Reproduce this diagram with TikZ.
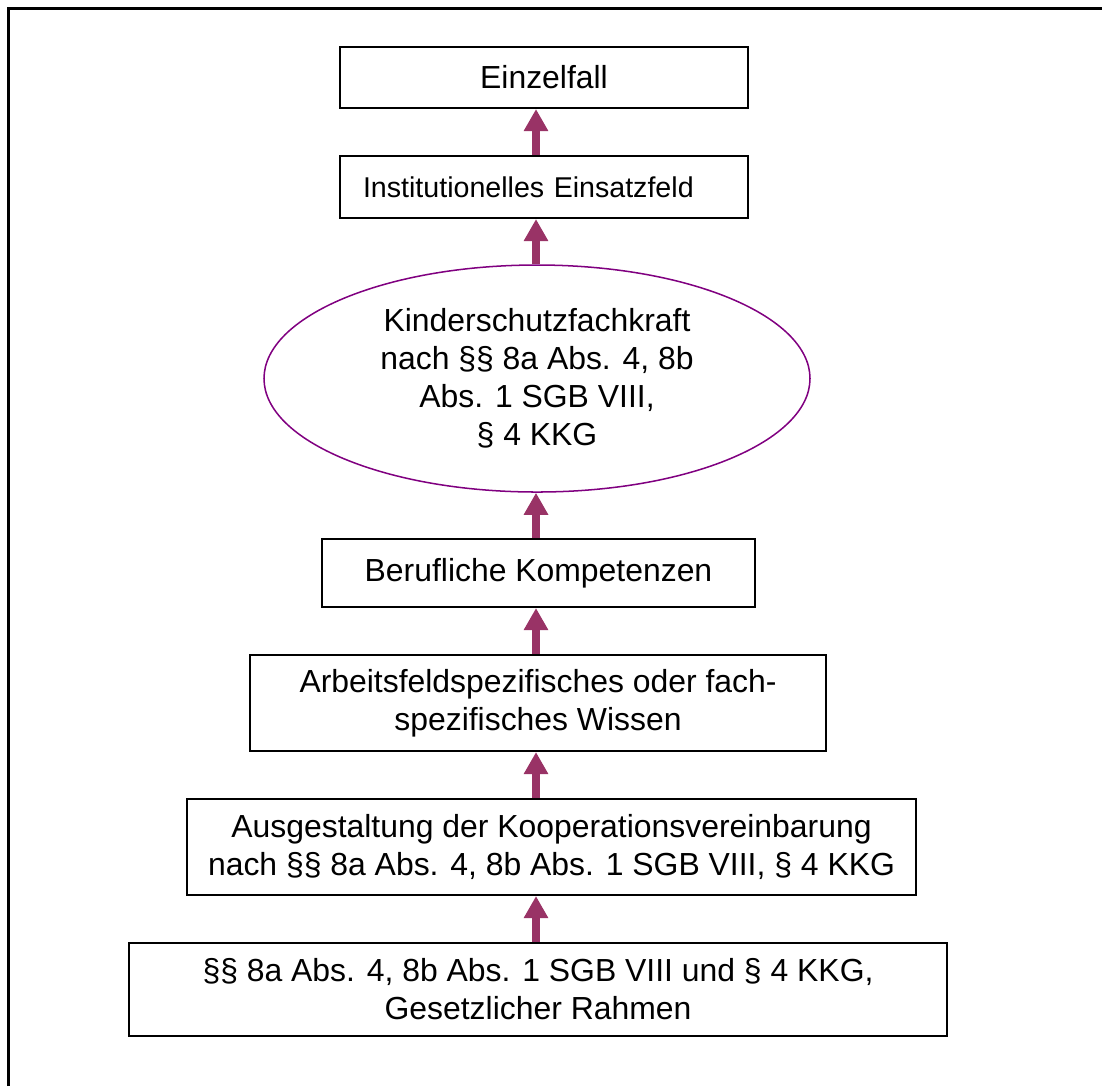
\documentclass[tikz,border=0pt]{standalone}
\usepackage{fontspec}
\setmainfont{Liberation Sans}
\usetikzlibrary{shapes.geometric,arrows.meta}
\definecolor{arrowred}{HTML}{993366}
\definecolor{ovalpurple}{HTML}{800080}
\newcommand{\pxu}{0.3636pt}
\tikzstyle{every node}=[font=\fontsize{11.6}{13.8}\selectfont, align=center]
\tikzstyle{stage}=[draw, black, line width=0.75pt, inner sep=0pt]
\tikzstyle{oval}=[ellipse, draw=ovalpurple, line width=0.55pt, inner sep=0pt]
\tikzstyle{up}=[arrowred, line width=2.9pt, -{Triangle[width=8.4pt, length=8pt]}]

\begin{document}
\begin{tikzpicture}[x=\pxu, y=-\pxu]
\useasboundingbox (0,0) rectangle (1102,1086);
% Frame
    \draw[line width=0.9pt] (8.5,1086) -- (8.5,8.5) -- (1102,8.5);
% Boxes
    \node[stage, minimum width=408*\pxu, minimum height=61*\pxu] (fall) at (544,77.5) {Einzelfall};
    \node[stage, font=\fontsize{10.4}{12.5}\selectfont, align=left, text width=362*\pxu, inner xsep=23*\pxu, minimum height=62*\pxu] (feld) at (544,187) {Institutionelles Einsatzfeld};
    \node[oval, minimum width=546*\pxu, minimum height=227*\pxu] (kraft) at (537,378.5) {Kinderschutzfachkraft\\nach §§ 8a Abs. 4, 8b\\Abs. 1 SGB VIII,\\§ 4 KKG};
    \node[stage, minimum width=433*\pxu, minimum height=68*\pxu] (beruf) at (538.5,573) {Berufliche Kompetenzen};
    \node[stage, minimum width=576*\pxu, minimum height=96*\pxu] (wissen) at (538,703) {Arbeitsfeldspezifisches oder fach-\\spezifisches Wissen};
    \node[stage, minimum width=729*\pxu, minimum height=96*\pxu] (koop) at (551.5,847) {Ausgestaltung der Kooperationsvereinbarung\\nach §§ 8a Abs. 4, 8b Abs. 1 SGB VIII, § 4 KKG};
    \node[stage, minimum width=818*\pxu, minimum height=93*\pxu] (rahmen) at (538,989.5) {§§ 8a Abs. 4, 8b Abs. 1 SGB VIII und § 4 KKG,\\Gesetzlicher Rahmen};
% Arrows
    \coordinate (spine) at (536,0);
    \draw[up] (rahmen.north -| spine) -- (koop.south -| spine);
    \draw[up] (koop.north -| spine) -- (wissen.south -| spine);
    \draw[up] (wissen.north -| spine) -- (beruf.south -| spine);
    \draw[up] (beruf.north -| spine) -- (kraft.south -| spine);
    \draw[up] (kraft.north -| spine) -- (feld.south -| spine);
    \draw[up] (feld.north -| spine) -- (fall.south -| spine);
\end{tikzpicture}
\end{document}
